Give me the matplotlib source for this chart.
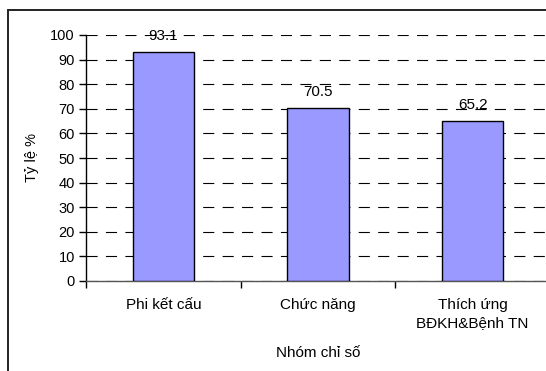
import matplotlib
matplotlib.use('Agg')
import matplotlib.pyplot as plt
from matplotlib.patches import Rectangle

plt.rcParams['font.family'] = ['Liberation Sans', 'DejaVu Sans']
plt.rcParams['lines.scale_dashes'] = False

# Data
categories = ['Phi kết cấu', 'Chức năng', 'Thích ứng\nBĐKH&Bệnh TN']
values = [93.1, 70.5, 65.2]
y_ticks = [0, 10, 20, 30, 40, 50, 60, 70, 80, 90, 100]

fig = plt.figure(figsize=(5.46, 3.71), dpi=100)
ax = fig.add_axes([86 / 546, 1 - 281 / 371, 464 / 546, 246 / 371])

# outer chart frame (runs off the right and bottom edges)
fig.patches.append(Rectangle((8 / 546, -0.2), 1.2, 1.2 - 10 / 371,
                             transform=fig.transFigure, fill=False,
                             edgecolor='#222222', linewidth=1.4))

x = list(range(len(categories)))
ax.bar(x, values, width=0.395, color='#9999FF', edgecolor='black',
       linewidth=1.0, zorder=3)

for xi, v in zip(x, values):
    ax.annotate(f'{v}', (xi, v), xytext=(0, 11.5), textcoords='offset points',
                ha='center', va='center', fontsize=11, zorder=4)

ax.set_xlim(-0.5, 2.5)
ax.set_ylim(0, 100)
ax.set_yticks(y_ticks)
ax.set_xticks(x)
ax.set_xticklabels(categories, fontsize=11, linespacing=1.35)
ax.set_xticks([-0.5, 0.5, 1.5, 2.5], minor=True)
ax.tick_params(axis='x', which='major', length=0, pad=12)
ax.tick_params(axis='x', which='minor', length=5, width=1, direction='out')
ax.tick_params(axis='y', length=5, width=1, direction='out', labelsize=10.5, pad=3)

ax.yaxis.grid(True, color='black', linestyle=(0, (8, 6)), linewidth=0.8, zorder=0)
ax.set_axisbelow(True)

for s in ['top', 'right']:
    ax.spines[s].set_visible(False)
ax.spines['left'].set_linewidth(1.0)
ax.spines['bottom'].set_color('#555555')
ax.spines['bottom'].set_linewidth(1.0)

ax.set_ylabel('Tỷ lệ %', fontsize=10.5, labelpad=8)
ax.set_xlabel('Nhóm chỉ số', fontsize=11, labelpad=12)

fig.savefig('out.png', dpi=100)
